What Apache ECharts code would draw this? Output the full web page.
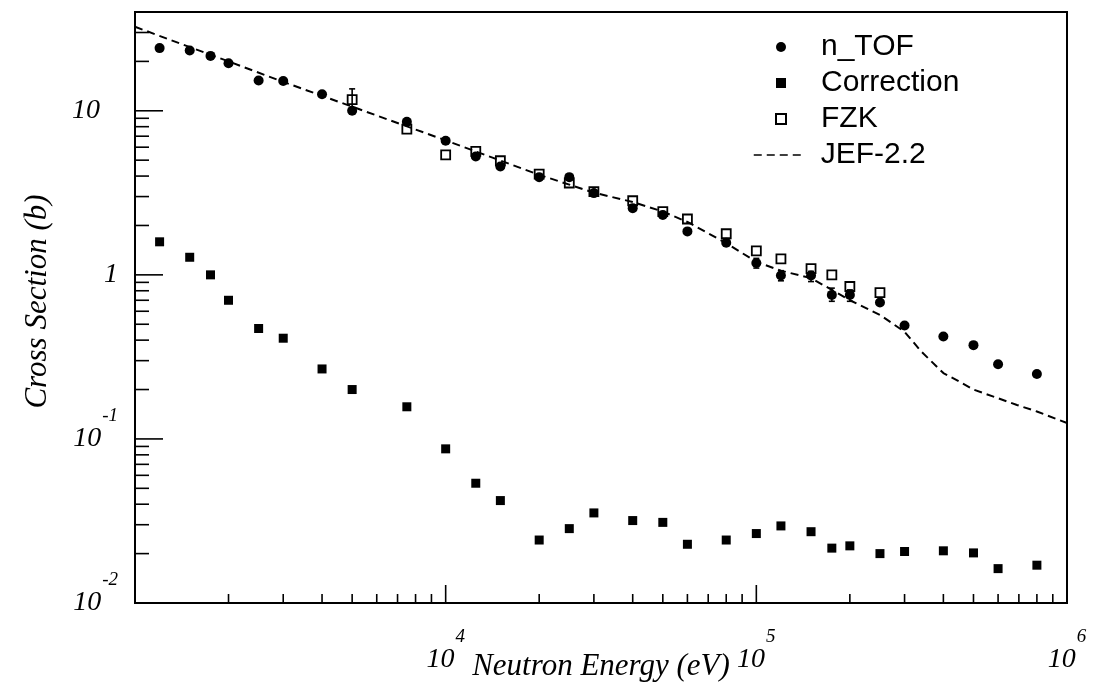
<!DOCTYPE html>
<html>
<head>
<meta charset="utf-8">
<script src="https://cdn.jsdelivr.net/npm/echarts@6/dist/echarts.min.js"></script>
<style>html,body{margin:0;padding:0;background:#fff}#c{width:1096px;height:684px}</style>
</head>
<body>
<div id="c"></div>
<script>
// ---------------- data ----------------
const ntofE = [1200,1500,1750,2000,2500,3000,4000,5000,7500,10000,12500,15000,20000,25000,30000,40000,50000,60000,80000,100000,120000,150000,175000,200000,250000,300000,400000,500000,600000,800000];
const ntofY = [24.1,23.3,21.6,19.5,15.3,15.2,12.6,10.0,8.57,6.56,5.27,4.58,3.94,3.94,3.15,2.55,2.32,1.84,1.57,1.18,0.99,0.99,0.755,0.755,0.678,0.491,0.421,0.373,0.285,0.249];

const corrE = [1200,1500,1750,2000,2500,3000,4000,5000,7500,10000,12500,15000,20000,25000,30000,40000,50000,60000,80000,100000,120000,150000,175000,200000,250000,300000,400000,500000,600000,800000];
const corrY = [1.59,1.28,1.0,0.70,0.471,0.411,0.267,0.20,0.157,0.087,0.0537,0.0421,0.0242,0.0284,0.0354,0.0318,0.031,0.0228,0.0242,0.0265,0.0295,0.0272,0.0216,0.0223,0.0200,0.0206,0.0208,0.0202,0.0162,0.017];

const fzkE = [5000,7500,10000,12500,15000,20000,25000,30000,40000,50000,60000,80000,100000,120000,150000,175000,200000,250000];
const fzkY = [11.7,7.73,5.39,5.65,4.96,4.11,3.63,3.22,2.83,2.43,2.19,1.78,1.40,1.25,1.09,1.0,0.849,0.78];

const jefE = [1000,2000,3000,5000,10000,20000,30000,40000,50000,60000,80000,100000,120000,150000,175000,200000,250000,300000,340000,400000,440000,500000,580000,690000,800000,1000000];
const jefY = [32.5,20.0,15.0,10.6,6.6,4.07,3.17,2.78,2.43,2.1,1.56,1.2,1.06,0.955,0.81,0.70,0.57,0.45,0.34,0.252,0.229,0.20,0.181,0.161,0.147,0.125];

// error bars (only those visible outside the markers)
const ntofErrE  = [100000,120000,150000,175000,200000];
const ntofErrLo = [1.10,0.92,0.91,0.69,0.69];
const ntofErrHi = [1.26,1.06,1.05,0.83,0.81];
const fzkErrE  = [5000];
const fzkErrLo = [10.2];
const fzkErrHi = [13.6];

// axis ticks
const xMajorTicks = [1e3,1e4,1e5,1e6];
const xMinorTicks = [2e3,3e3,4e3,5e3,6e3,7e3,8e3,9e3,2e4,3e4,4e4,5e4,6e4,7e4,8e4,9e4,2e5,3e5,4e5,5e5,6e5,7e5,8e5,9e5];
const yMajorTicks = [0.01,0.1,1,10];
const yMinorTicks = [0.02,0.03,0.04,0.05,0.06,0.07,0.08,0.09,0.2,0.3,0.4,0.5,0.6,0.7,0.8,0.9,2,3,4,5,6,7,8,9,20,30];

const X_MIN = 1000, X_MAX = 1e6, Y_MIN = 0.01, Y_MAX = 40;

// ---------------- styling ----------------
const SERIF = "'Liberation Serif','Times New Roman',serif";
const SANS = "'Liberation Sans',Arial,Helvetica,sans-serif";
const rich = {
  b: {fontFamily: SERIF, fontStyle: 'italic', fontSize: 28, lineHeight: 28, color: '#000'},
  p: {fontFamily: SERIF, fontStyle: 'italic', fontSize: 28, lineHeight: 28, color: '#000', padding: [0, 18, 0, 0]},
  s: {fontFamily: SERIF, fontStyle: 'italic', fontSize: 19, lineHeight: 19, color: '#000', padding: [0, 0, 46, 1]}
};
const legendRich = (gap) => ({
  g: {width: gap, fontSize: 30},
  t: {fontFamily: SANS, fontSize: 30, lineHeight: 30, color: '#000'}
});

function zip(a, b) { return a.map((v, i) => [v, b[i]]); }

const xTickData = xMajorTicks.map(v => [v, Y_MIN, 1]).concat(xMinorTicks.map(v => [v, Y_MIN, 0]));
const yTickData = yMajorTicks.map(v => [X_MIN, v, 1]).concat(yMinorTicks.map(v => [X_MIN, v, 0]));

function errRender(params, api) {
  const x = api.value(0);
  const p1 = api.coord([x, api.value(1)]);
  const p2 = api.coord([x, api.value(2)]);
  const c = 3;
  const st = {stroke: '#000', lineWidth: 1.6};
  return {type: 'group', children: [
    {type: 'line', shape: {x1: p1[0], y1: p1[1], x2: p2[0], y2: p2[1]}, style: st},
    {type: 'line', shape: {x1: p1[0]-c, y1: p1[1], x2: p1[0]+c, y2: p1[1]}, style: st},
    {type: 'line', shape: {x1: p2[0]-c, y1: p2[1], x2: p2[0]+c, y2: p2[1]}, style: st}
  ]};
}

const chart = echarts.init(document.getElementById('c'), null, {renderer: 'canvas'});
chart.setOption({
  animation: false,
  backgroundColor: '#fff',
  grid: {left: 135, right: 29, top: 12, bottom: 81, outerBoundsMode: 'none', containLabel: false,
    show: true, borderColor: '#000', borderWidth: 2, backgroundColor: 'transparent'},
  xAxis: {
    type: 'log', logBase: 10, min: X_MIN, max: X_MAX,
    name: 'Neutron Energy (eV)', nameLocation: 'middle', nameGap: 48, nameMoveOverlap: false,
    nameTextStyle: {fontFamily: SERIF, fontStyle: 'italic', fontSize: 31, color: '#000'},
    axisLine: {show: false}, axisTick: {show: false}, splitLine: {show: false}, minorTick: {show: false},
    axisLabel: {
      margin: 43, color: '#000', rich: rich, hideOverlap: false,
      formatter: v => { const e = Math.round(Math.log10(v)); return e === 3 ? '' : '{b|10}{s|' + e + '}'; }
    }
  },
  yAxis: {
    type: 'log', logBase: 10, min: Y_MIN, max: Y_MAX,
    name: 'Cross Section (b)', nameLocation: 'middle', nameGap: 82, nameRotate: 90, nameMoveOverlap: false,
    nameTextStyle: {fontFamily: SERIF, fontStyle: 'italic', fontSize: 31, color: '#000', padding: [0, 0, 0, 12]},
    axisLine: {show: false}, axisTick: {show: false}, splitLine: {show: false}, minorTick: {show: false},
    axisLabel: {
      margin: 17, color: '#000', rich: rich, showMaxLabel: false, hideOverlap: false,
      formatter: v => {
        const l = Math.log10(v), e = Math.round(l);
        if (Math.abs(l - e) > 1e-6) return '';
        if (e === 0) return '{b|1}';
        if (e === 1) return '{p|10}';
        return '{b|10}{s|' + e + '}';
      }
    }
  },
  legend: [
    {
      orient: 'vertical', left: 770, top: 27, itemWidth: 10, itemHeight: 10, itemGap: 6,
      data: [{name: 'n_TOF', icon: 'circle'}, {name: 'Correction', icon: 'rect'}, {name: 'FZK', icon: 'rect'}],
      formatter: n => '{g| }{t|' + n + '}',
      textStyle: {fontFamily: SANS, fontSize: 30, color: '#000', lineHeight: 30, rich: legendRich(30)},
      selectedMode: false
    },
    {
      orient: 'vertical', left: 748, top: 135, itemWidth: 52, itemHeight: 10,
      data: [{name: 'JEF-2.2', icon: 'inherit', itemStyle: {opacity: 0}}],
      formatter: n => '{g| }{t|' + n + '}',
      textStyle: {fontFamily: SANS, fontSize: 30, color: '#000', lineHeight: 30, rich: legendRich(10)},
      itemStyle: {opacity: 0},
      lineStyle: {width: 1.5, opacity: 1},
      selectedMode: false
    }
  ],
  series: [
    {type: 'custom', name: 'xticks', silent: true, z: 1, data: xTickData, encode: {x: 0, y: 1},
      renderItem: (params, api) => {
        const p = api.coord([api.value(0), Y_MIN]);
        const len = api.value(2) ? 18 : 9;
        return {type: 'line', shape: {x1: p[0], y1: p[1], x2: p[0], y2: p[1] - len}, style: {stroke: '#000', lineWidth: 1.6}};
      }},
    {type: 'custom', name: 'yticks', silent: true, z: 1, data: yTickData, encode: {x: 0, y: 1},
      renderItem: (params, api) => {
        const p = api.coord([X_MIN, api.value(1)]);
        const len = api.value(2) ? 28 : 14;
        return {type: 'line', shape: {x1: p[0], y1: p[1], x2: p[0] + len, y2: p[1]}, style: {stroke: '#000', lineWidth: 1.6}};
      }},
    {type: 'line', name: 'JEF-2.2', data: zip(jefE, jefY), symbol: 'none', showSymbol: false, z: 2,
      lineStyle: {color: '#000', width: 2, type: [8, 5]}, itemStyle: {color: '#000'}},
    {type: 'custom', name: 'ntofErr', silent: true, z: 3,
      data: ntofErrE.map((e, i) => [e, ntofErrLo[i], ntofErrHi[i]]), encode: {x: 0, y: [1, 2]}, renderItem: errRender},
    {type: 'scatter', name: 'n_TOF', data: zip(ntofE, ntofY), symbol: 'circle', symbolSize: 10, z: 4,
      itemStyle: {color: '#000', opacity: 1}},
    {type: 'scatter', name: 'Correction', data: zip(corrE, corrY), symbol: 'rect', symbolSize: 9, z: 4,
      itemStyle: {color: '#000', opacity: 1}},
    {type: 'custom', name: 'fzkErr', silent: true, z: 5,
      data: fzkErrE.map((e, i) => [e, fzkErrLo[i], fzkErrHi[i]]), encode: {x: 0, y: [1, 2]}, renderItem: errRender},
    {type: 'scatter', name: 'FZK', data: zip(fzkE, fzkY), symbol: 'rect', symbolSize: 9, z: 5,
      itemStyle: {color: 'rgba(255,255,255,0)', borderColor: '#000', borderWidth: 1.8, opacity: 1}}
  ]
});
</script>
</body>
</html>
